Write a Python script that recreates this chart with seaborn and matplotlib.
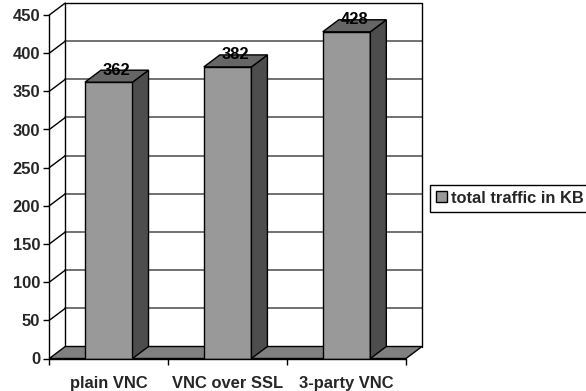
import matplotlib
matplotlib.use("Agg")
import matplotlib.pyplot as plt
import seaborn as sns
from matplotlib.patches import Polygon, Patch

categories = ["plain VNC", "VNC over SSL", "3-party VNC"]
values = [362, 382, 428]
series_name = "total traffic in KB"
yticks = [0, 50, 100, 150, 200, 250, 300, 350, 400, 450]

FRONT = "#999999"
TOP = "#666666"
SIDE = "#4d4d4d"
FLOOR = "#808080"
GRID = "#666666"

sns.set_theme(style="white")
plt.rcParams["font.family"] = ["Liberation Sans", "DejaVu Sans"]
plt.rcParams["font.weight"] = "bold"
FS = 11.9

fig = plt.figure(figsize=(5.86, 3.91), dpi=100)
fig.patch.set_facecolor("white")
ax = fig.add_axes([49.3 / 586, (391 - 358.5) / 391, 372.7 / 586, 355.5 / 391])
ax.set_facecolor("none")

sns.barplot(x=categories, y=values, color=FRONT, saturation=1, width=0.4,
            edgecolor="black", linewidth=1, ax=ax, zorder=3)

ymax = yticks[-1]
dx = 16 / 119.0
dy = 12 / (343.5 / ymax)
x0, x1 = -0.5, len(categories) - 0.5

ax.set_xlim(x0, x1 + dx)
ax.set_ylim(0, ymax + dy)

# back wall gridlines
for t in yticks[1:-1]:
    ax.plot([x0 + dx, x1 + dx], [t + dy, t + dy], color=GRID, lw=1.3, zorder=0.5, clip_on=False)
# left wall diagonals
for t in yticks[1:]:
    ax.plot([x0, x0 + dx], [t, t + dy], color="black", lw=1, zorder=0.6, clip_on=False)
# back wall frame
ax.plot([x0 + dx, x0 + dx, x1 + dx, x1 + dx], [dy, ymax + dy, ymax + dy, dy],
        color="black", lw=1, zorder=0.6, clip_on=False)
# front y axis line
ax.plot([x0, x0], [0, ymax], color="black", lw=1, zorder=4, clip_on=False)
# floor
ax.add_patch(Polygon([(x0, 0), (x1, 0), (x1 + dx, dy), (x0 + dx, dy)], closed=True,
                     facecolor=FLOOR, edgecolor="black", lw=1, zorder=1, clip_on=False))

# 3D sides and tops for bars
for p, v in zip(ax.patches[:len(values)], values):
    l = p.get_x()
    r = l + p.get_width()
    h = p.get_height()
    ax.add_patch(Polygon([(r, 0), (r + dx, dy), (r + dx, h + dy), (r, h)], closed=True,
                         facecolor=SIDE, edgecolor="black", lw=1, zorder=3, clip_on=False))
    ax.add_patch(Polygon([(l, h), (r, h), (r + dx, h + dy), (l + dx, h + dy)], closed=True,
                         facecolor=TOP, edgecolor="black", lw=1, zorder=3, clip_on=False))
    ax.text((l + r) / 2 + dx / 2, h + dy, f"{v}", ha="center", va="center",
            fontsize=FS, fontweight="bold", color="black", zorder=5)

for s in ax.spines.values():
    s.set_visible(False)

ax.set_yticks(yticks)
ax.set_yticklabels([str(t) for t in yticks], fontsize=FS, fontweight="bold")
ax.tick_params(axis="y", which="major", left=True, length=4.5, width=1, pad=2, color="black")

ax.set_xticks([x0 + i for i in range(len(categories) + 1)])
ax.set_xticklabels([""] * (len(categories) + 1))
ax.set_xticks(list(range(len(categories))), minor=True)
ax.set_xticklabels(categories, minor=True, fontsize=FS, fontweight="bold")
ax.tick_params(axis="x", which="major", bottom=True, length=4.5, width=1, color="black")
ax.tick_params(axis="x", which="minor", bottom=True, length=0, pad=12.5)
ax.plot([x0, x1], [0, 0], color="black", lw=1, zorder=4, clip_on=False)
ax.set_xlabel("")
ax.set_ylabel("")

fig.legend(handles=[Patch(facecolor=FRONT, edgecolor="black", lw=1, label=series_name)],
           loc="upper left", bbox_to_anchor=(430 / 586, 1 - 185 / 391),
           frameon=True, fancybox=False, edgecolor="black", framealpha=1,
           borderaxespad=0, handlelength=0.65, handleheight=0.65, handletextpad=0.3,
           borderpad=0.35, prop={"size": FS, "weight": "bold"})

fig.savefig("out.png", dpi=100)
